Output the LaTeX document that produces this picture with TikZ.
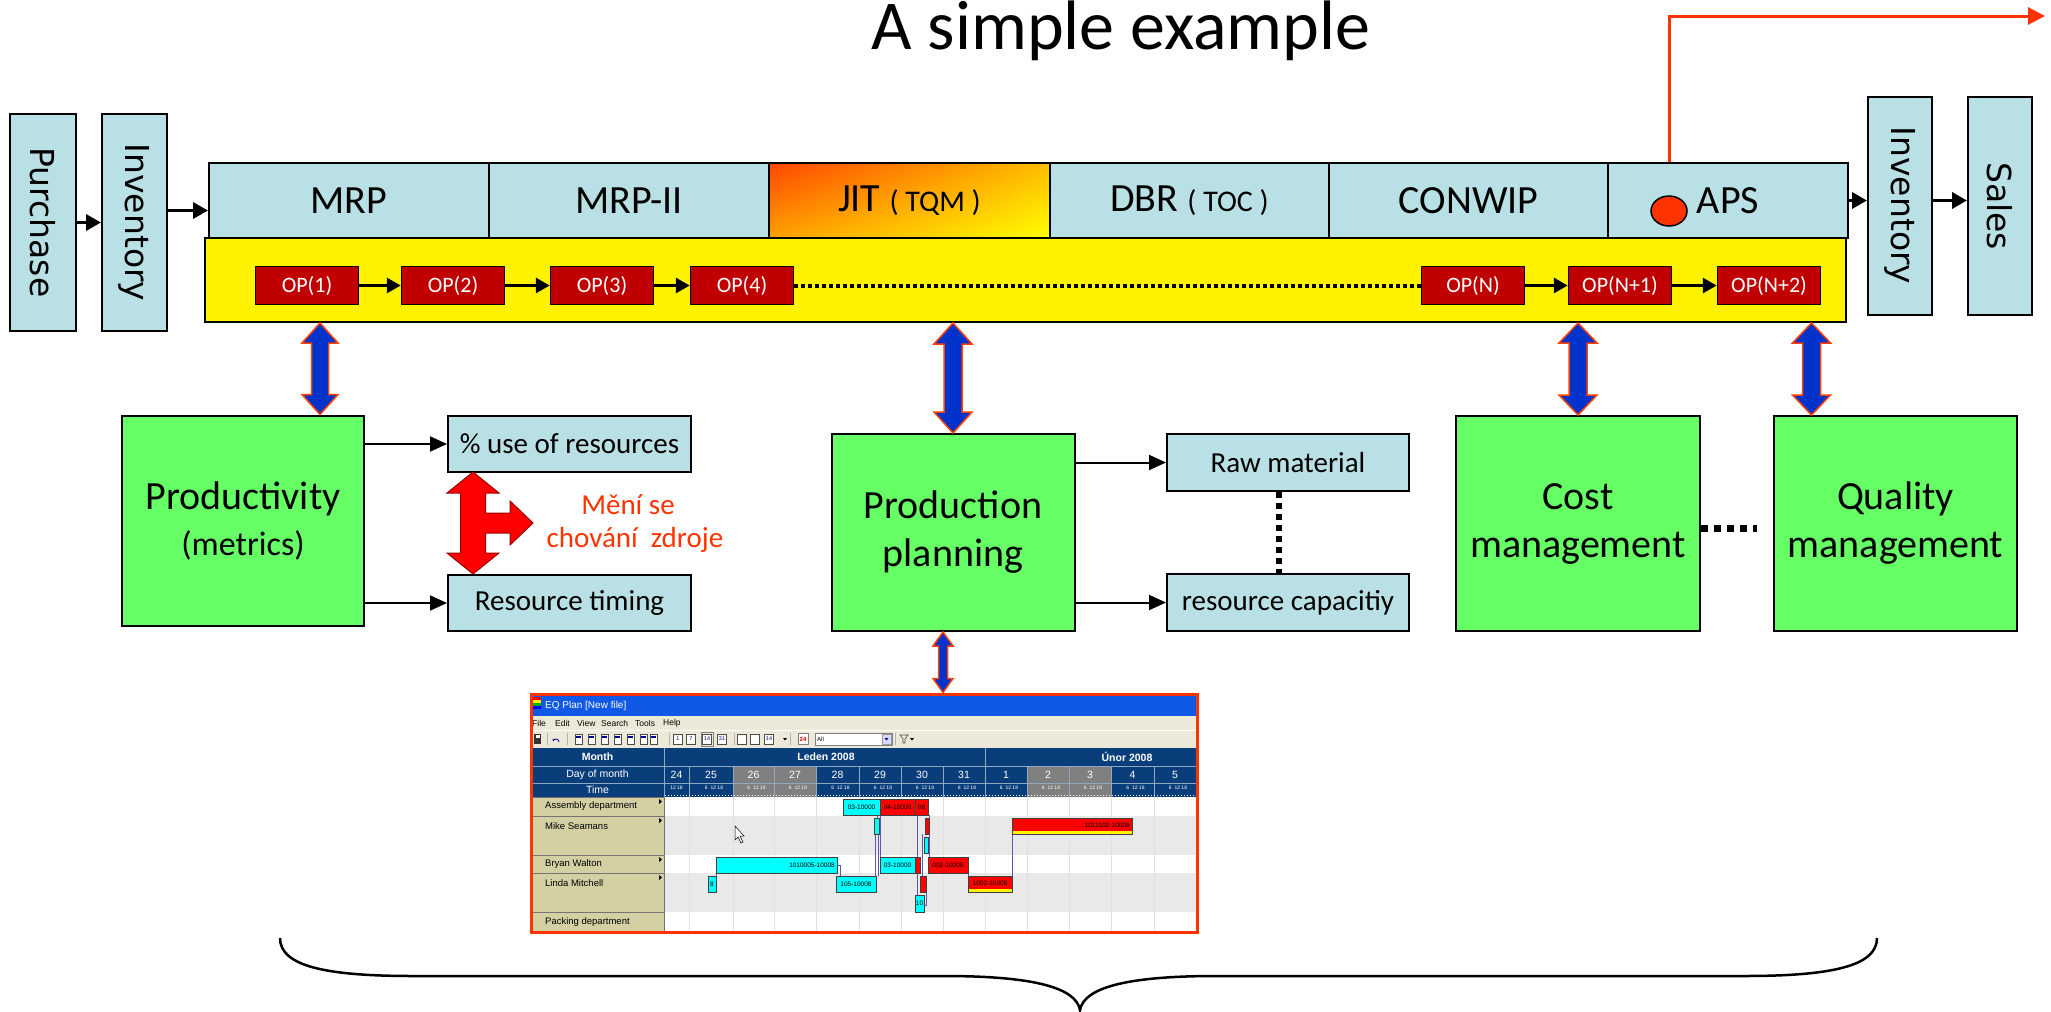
\documentclass[tikz,border=0pt]{standalone}
\usepackage{fontspec}
\setmainfont{Carlito}
\newfontfamily\vfont{DejaVu Sans}
\newfontfamily\sfont{Liberation Sans}
\usetikzlibrary{arrows.meta,calc,shadings,shapes.geometric}
\newcommand{\myfs}[2]{\fontsize{#1}{#2}\selectfont}
\definecolor{boxblue}{RGB}{185,224,228}
\definecolor{grn}{RGB}{102,255,102}
\definecolor{opred}{RGB}{192,0,0}
\definecolor{arrblue}{RGB}{0,51,204}
\definecolor{arrline}{RGB}{255,64,0}
\definecolor{txtred}{RGB}{255,51,0}
\definecolor{hdrblue}{RGB}{10,62,122}
\definecolor{hgray}{RGB}{128,128,128}
\definecolor{khaki}{RGB}{212,208,164}
\definecolor{menubg}{RGB}{236,233,216}
\definecolor{rowgray}{RGB}{233,233,233}
\definecolor{titleblue}{RGB}{16,88,230}
\definecolor{lnk}{RGB}{90,90,180}
\definecolor{barcyan}{RGB}{0,255,255}
\definecolor{barred}{RGB}{255,0,0}
\begin{document}
\begin{tikzpicture}[x=1pt,y=-1pt,
  lb/.style={draw=black,line width=2pt,fill=boxblue,inner sep=0pt},
  gb/.style={draw=black,line width=2pt,fill=grn,inner sep=0pt,align=center},
  op/.style={draw=black,line width=1.5pt,fill=opred,text=white,inner sep=0pt,minimum width=103pt,minimum height=38pt,font=\myfs{22}{22}},
  arr/.style={line width=3.5pt,-{Triangle[length=15pt,width=16pt]}},
  oparr/.style={line width=3pt,-{Triangle[length=14pt,width=15pt]}},
  thinarr/.style={line width=2pt,-{Triangle[length=17pt,width=15pt]}},
  bdarrow/.style n args={3}{fill=arrblue,draw=arrline,line width=1.5pt,
    to path={let \p1=(\tikztostart), \p2=(\tikztotarget) in
      (\x1,\y1) -- (\x1+#1,\y1-#3) -- (\x1+#2,\y1-#3) -- (\x1+#2,\y2+#3) -- (\x1+#1,\y2+#3)
      -- (\x1,\y2) -- (\x1-#1,\y2+#3) -- (\x1-#2,\y2+#3) -- (\x1-#2,\y1-#3) -- (\x1-#1,\y1-#3) -- cycle}},
  cy/.style={fill=barcyan,draw=black!75,line width=0.6pt},
  rd/.style={fill=barred,draw=black!75,line width=0.6pt},
  tiny/.style={font=\sfont\myfs{6.5}{6.5},inner sep=0pt},
  small/.style={font=\sfont\myfs{9.5}{9.5},inner sep=0pt},
  hline/.style={draw=white!55!hdrblue,line width=0.8pt}
]
\useasboundingbox (0,0) rectangle (2051,1012);

% title
\node[anchor=base,font=\myfs{70}{70},inner sep=0pt] (title) at (1121,49) {A simple example};

% red line from APS
\coordinate (dotc) at (1669,211);
\coordinate (rend) at (2045,16);
\draw[txtred,line width=3pt,-{Triangle[length=17pt,width=17pt]}] (dotc) -- (dotc |- rend) -- (rend);

% yellow band
\node[draw=black,line width=2pt,fill=yellow,minimum width=1641pt,minimum height=84pt,inner sep=0pt] (band) at (1025.5,280) {};

% top row
\node[lb,minimum width=280pt,minimum height=75pt,font=\myfs{40}{40}] (mrp) at (349,200.5) {MRP};
\node[lb,minimum width=280pt,minimum height=75pt,font=\myfs{40}{40}] (mrp2) at (629,200.5) {MRP-II};
\node[draw=black,line width=2pt,inner sep=0pt,minimum width=281pt,minimum height=75pt,font=\myfs{40}{40},
  upper left={rgb,255:red,255;green,70;blue,0},upper right={rgb,255:red,255;green,190;blue,0},
  lower left={rgb,255:red,255;green,160;blue,0},lower right={rgb,255:red,255;green,255;blue,0}] (jit) at (909.5,200.5) {JIT {\myfs{30}{30}( TQM )}};
\node[lb,minimum width=279pt,minimum height=75pt,font=\myfs{40}{40}] (dbr) at (1189.5,200.5) {DBR {\myfs{30}{30}( TOC )}};
\node[lb,minimum width=279pt,minimum height=75pt,font=\myfs{40}{40}] (conwip) at (1468.5,200.5) {CONWIP};
\node[lb,minimum width=240pt,minimum height=75pt,font=\myfs{40}{40}] (aps) at (1728,200.5) {APS};
\node[draw=black,line width=1.5pt,fill=txtred,ellipse,minimum width=36pt,minimum height=30pt,inner sep=0pt] (dot) at (dotc) {};

% side boxes (rotated: north = right side, south = left side)
\node[lb,rotate=-90,minimum width=217pt,minimum height=66pt,font=\vfont\myfs{33}{33}] (purch) at (43,222.5) {Purchase};
\node[lb,rotate=-90,minimum width=217pt,minimum height=65pt,font=\vfont\myfs{33}{33}] (inv1) at (134.5,222.5) {Inventory};
\node[lb,rotate=-90,minimum width=218pt,minimum height=64pt,font=\vfont\myfs{33}{33}] (inv2) at (1900,205.5) {Inventory};
\node[lb,rotate=-90,minimum width=218pt,minimum height=64pt,font=\vfont\myfs{33}{33}] (sales) at (2000,206) {Sales};

\draw[arr] (purch.north) -- (inv1.south);
\draw[arr] ([yshift=-10pt]inv1.north |- mrp.west) -- ([yshift=-10pt]mrp.west);
\draw[arr] (aps.east) -- (inv2.south |- aps.east);
\draw[arr] (inv2.north |- aps.east) -- (sales.south |- aps.east);

% OP boxes
\node[op] (op1) at (307,285.5) {OP(1)};
\node[op] (op2) at (453,285.5) {OP(2)};
\node[op] (op3) at (602,285.5) {OP(3)};
\node[op] (op4) at (742,285.5) {OP(4)};
\node[op] (opn) at (1473,285.5) {OP(N)};
\node[op] (opn1) at (1620,285.5) {OP(N+1)};
\node[op] (opn2) at (1769,285.5) {OP(N+2)};
\draw[oparr] (op1) -- (op2);
\draw[oparr] (op2) -- (op3);
\draw[oparr] (op3) -- (op4);
\draw[oparr] (opn) -- (opn1);
\draw[oparr] (opn1) -- (opn2);
\draw[line width=4pt,dash pattern=on 4pt off 3pt] (op4.east) -- (opn.west);

% lower boxes
\node[gb,minimum width=242pt,minimum height=210pt,font=\myfs{40}{46}] (prod) at (243,520.5) {Productivity\\{\myfs{34}{34}(metrics)}};
\node[lb,minimum width=243pt,minimum height=56pt,font=\myfs{29}{29}] (use) at (569.5,444) {\% use of resources};
\node[lb,minimum width=243pt,minimum height=56pt,font=\myfs{29}{29}] (timing) at (569.5,603) {Resource timing};
\node[gb,minimum width=243pt,minimum height=197pt,font=\myfs{40}{48}] (plan) at (953,532.5) {Production\\planning};
\node[lb,minimum width=242pt,minimum height=57pt,font=\myfs{29}{29}] (raw) at (1288,462.5) {Raw material};
\node[lb,minimum width=242pt,minimum height=57pt,font=\myfs{29}{29}] (cap) at (1288,602.5) {resource capacitiy};
\node[gb,minimum width=244pt,minimum height=215pt,font=\myfs{40}{48}] (cost) at (1578,523.5) {Cost\\management};
\node[gb,minimum width=243pt,minimum height=215pt,font=\myfs{40}{48}] (qual) at (1895.5,523.5) {Quality\\management};

\draw[thinarr] (prod.east |- use.west) -- (use.west);
\draw[thinarr] (prod.east |- timing.west) -- (timing.west);
\draw[thinarr] (plan.east |- raw.west) -- (raw.west);
\draw[thinarr] (plan.east |- cap.west) -- (cap.west);
\draw[line width=6pt,dash pattern=on 6pt off 5pt] ([xshift=-9pt]raw.south) -- ([xshift=-9pt]cap.north);
\draw[line width=7pt,dash pattern=on 7pt off 6pt] ([yshift=-5pt]cost.east) -- ([xshift=-16pt,yshift=-5pt]qual.west);

% red triple arrow and text
\draw[fill=red,draw=red!60!black,line width=1pt] (473,472) -- (499,493) -- (485.5,493) -- (485.5,513) -- (510,513) -- (510,501) -- (533,523) -- (510,545) -- (510,533) -- (485.5,533) -- (485.5,553) -- (499,553) -- (473,574) -- (447,553) -- (460.5,553) -- (460.5,493) -- (447,493) -- cycle;
\node[text=txtred,font=\myfs{29}{29},inner sep=0pt] (meni1) at (628,505) {Mění se};
\node[text=txtred,font=\myfs{29}{29},inner sep=0pt] (meni2) at (635,540) {chování~~zdroje};

% blue double arrows
\coordinate (a1b) at ([xshift=77pt]prod.north);
\coordinate (a1t) at (a1b |- band.south);
\draw[bdarrow={18pt}{8.5pt}{20pt}] (a1t) to (a1b);
\coordinate (a2b) at (plan.north);
\coordinate (a2t) at (a2b |- band.south);
\draw[bdarrow={19pt}{9pt}{21pt}] (a2t) to (a2b);
\coordinate (a3b) at (cost.north);
\coordinate (a3t) at (a3b |- band.south);
\draw[bdarrow={19pt}{9pt}{20pt}] (a3t) to (a3b);
\coordinate (a4b) at ([xshift=-84pt]qual.north);
\coordinate (a4t) at (a4b |- band.south);
\draw[bdarrow={19pt}{9pt}{20pt}] (a4t) to (a4b);

% ===== screenshot =====
\fill[white] (531,694) rectangle (1197,932);
\fill[titleblue] (531,694) rectangle (1197,716);
\fill[red] (533,697) rectangle (541,700);
\fill[yellow] (533,700) rectangle (541,703);
\fill[green!70!black] (533,703) rectangle (541,706);
\fill[blue] (533,706) rectangle (541,709);
\node[anchor=west,text=white,font=\sfont\myfs{10}{10},inner sep=0pt] (sttl) at (545,705.5) {EQ Plan [New file]};
\fill[menubg] (531,716) rectangle (1197,748);
\draw[white,line width=1pt] (531,730) -- (1197,730);
\foreach \x/\t in {532/File,555/Edit,577/View,601/Search,635/Tools,663/Help}
  \node[anchor=west,font=\sfont\myfs{8.5}{8.5},inner sep=0pt] at (\x,723) {\t};
% toolbar
\fill[black!80] (534,734) rectangle (541,744);
\fill[white] (535.5,735) rectangle (539.5,738);
\draw[blue!60!black,line width=0.8pt,-{Stealth[length=2pt,width=3pt]}] (559,742) arc[start angle=0,end angle=160,radius=3pt];
\foreach \x in {575,588,601,614,627,640,650}
  \draw[fill=white,draw=black!70,line width=0.5pt] (\x,734) rectangle ++(7,10);
\foreach \x in {576,589,602,615,628,641,651}
  \fill[blue!60!black] (\x,736) rectangle ++(5,2);
\foreach \x/\t in {678/1,691/7,707/14,722/31,742/{},755/{},769/14}
  \node[draw=black!70,fill=white,font=\sfont\myfs{5.5}{5.5},text=blue!50!black,inner sep=0pt,minimum width=9pt,minimum height=10pt,line width=0.5pt] at (\x,739) {\t};
\draw[black!50,line width=0.6pt] (701,732) rectangle (713,746);
\fill[black] (783,738) -- (787,738) -- (785,740.5) -- cycle;
\node[draw=black!50,fill=white,font=\sfont\bfseries\myfs{6}{6},text=red!80!black,inner sep=0pt,minimum width=10pt,minimum height=11pt,line width=0.5pt] at (803,739) {24};
\draw[fill=white,draw=black!50,line width=0.5pt] (815,733) rectangle (892,745);
\node[anchor=west,font=\sfont\myfs{6}{6},inner sep=0pt] at (817,739) {All};
\draw[fill=blue!15,draw=black!40,line width=0.5pt] (882,734) rectangle (891,744);
\fill[blue!60!black] (884.5,738) -- (888.5,738) -- (886.5,740.5) -- cycle;
\draw[black!70,line width=0.6pt] (900,735) -- (908,735) -- (905,739) -- (905,743) -- (903,743) -- (903,739) -- cycle;
\fill[black] (910,738) -- (914,738) -- (912,740.5) -- cycle;
\foreach \x in {547,567,669,734,790,895}
  \draw[black!30,line width=0.6pt] (\x,733) -- (\x,745);

% header
\fill[hdrblue] (531,748) rectangle (1197,797);
\fill[hgray] (733,766) rectangle (816,797);
\fill[hgray] (1027,766) rectangle (1111,797);
\draw[hline] (531,766) -- (1197,766);
\draw[hline] (531,783) -- (1197,783);
\draw[hline] (664,748) -- (664,797);
\draw[hline] (985,748) -- (985,797);
\foreach \x in {689,733,774,816,859,901,943,1027,1069,1111,1154}
  \draw[hline] (\x,766) -- (\x,797);
\node[text=white,font=\sfont\bfseries\myfs{10.5}{10.5},inner sep=0pt] at (597.5,757) {Month};
\node[text=white,font=\sfont\bfseries\myfs{10.5}{10.5},inner sep=0pt] at (826,757) {Leden 2008};
\node[text=white,font=\sfont\bfseries\myfs{10.5}{10.5},inner sep=0pt] at (1127,757) {Únor 2008};
\node[text=white,font=\sfont\myfs{10.5}{10.5},inner sep=0pt] at (597.5,774.5) {Day of month};
\node[text=white,font=\sfont\myfs{10.5}{10.5},inner sep=0pt] at (597.5,790) {Time};
\foreach \a/\b/\d in {664/689/24,689/733/25,733/774/26,774/816/27,816/859/28,859/901/29,901/943/30,943/985/31,985/1027/1,1027/1069/2,1069/1111/3,1111/1154/4,1154/1196/5}
  \node[text=white,font=\sfont\myfs{10.5}{10.5},inner sep=0pt] at ({(\a+\b)/2},774.5) {\d};
\node[text=white,font=\sfont\myfs{5}{5},inner sep=0pt] at (676.5,788) {12 18};
\foreach \a/\b in {689/733,733/774,774/816,816/859,859/901,901/943,943/985,985/1027,1027/1069,1069/1111,1111/1154,1154/1196}
  \node[text=white,font=\sfont\myfs{5}{5},inner sep=0pt] at ({(\a+\b)/2+3},788) {6\ \ 12 18};
\draw[white,line width=0.5pt,dash pattern=on 0.5pt off 2.5pt] (665,795.5) -- (1196,795.5);

% body rows
\fill[rowgray] (664,816) rectangle (1196,855);
\fill[rowgray] (664,873) rectangle (1196,912);
\foreach \x in {689,733,774,816,859,901,943,985,1027,1069,1111,1154}
  \draw[black!12,line width=0.6pt] (\x,797) -- (\x,932);
\foreach \ya/\yb in {797/816,816/855,855/873,873/912,912/932}
  \draw[fill=khaki,draw=black!55,line width=0.8pt] (531,\ya) rectangle (664,\yb);
\foreach \y in {799,818,857,875}
  \fill[black] (659,\y) -- (662,\y+2.5) -- (659,\y+5) -- cycle;
\node[anchor=west,small] at (545,806.5) {Assembly department};
\node[anchor=west,small] at (545,826) {Mike Seamans};
\node[anchor=west,small] at (545,864) {Bryan Walton};
\node[anchor=west,small] at (545,883) {Linda Mitchell};
\node[anchor=west,small] at (545,922) {Packing department};

% link lines
\draw[lnk,line width=0.7pt] (877,815) -- (877,834) (878,834) -- (878,876) (875,834) -- (875,876);
\draw[lnk,line width=0.7pt] (917,815) -- (917,905) (922,834) -- (922,876) (929,815) -- (929,857);
\draw[lnk,line width=0.7pt] (1012,826) -- (1012,884) (837,865) -- (840,865) -- (840,876);
\draw[lnk,line width=0.7pt] (716,870) -- (716,884) (968,865) -- (968,884) (926,884) -- (926,905) -- (924,905);
\draw[lnk,line width=0.7pt] (880,807) -- (880,865);
% bars
\draw[cy] (843,799) rectangle (880,815);
\draw[rd] (880,799) rectangle (915,815);
\draw[rd] (915,799) rectangle (928,815);
\node[tiny] at (861.5,807) {03-10000};
\node[tiny] at (897.5,807) {04-10000};
\node[tiny] at (921.5,807) {08};
\draw[cy] (874,818) rectangle (879,834);
\draw[rd] (925,818) rectangle (929,834);
\draw[cy] (924,837) rectangle (928,853);
\draw[rd] (1012,818) rectangle (1132,834);
\fill[yellow] (1012.5,831) rectangle (1131.5,833.5);
\node[tiny,anchor=east] at (1130,825.5) {1011002-10008};
\draw[cy] (716,857) rectangle (837,873);
\node[tiny,anchor=east] at (835,865) {1010005-10008};
\draw[cy] (880,857) rectangle (915,873);
\node[tiny] at (897.5,865) {03-10000};
\draw[rd] (915,857) rectangle (920,873);
\draw[rd] (928,857) rectangle (968,873);
\node[tiny] at (948,865) {002-10008};
\draw[cy] (708,876) rectangle (716,892);
\node[tiny] at (712,884) {8};
\draw[cy] (836,876) rectangle (876,892);
\node[tiny] at (856,884) {105-10008};
\draw[rd] (920,876) rectangle (926,892);
\draw[rd] (968,876) rectangle (1012,892);
\fill[yellow] (968.5,889) rectangle (1011.5,891.5);
\node[tiny] at (990,883.5) {1002-10008};
\draw[cy] (915,895) rectangle (924,912);
\node[tiny] at (919.5,903.5) {10};
% cursor
\draw[fill=white,draw=black,line width=0.5pt] (735,826) -- (735,840) -- (738,837) -- (741,843) -- (743,842) -- (740,836) -- (744,836) -- cycle;

% frame
\node[draw=txtred,line width=3pt,minimum width=666pt,minimum height=238pt,inner sep=0pt] (shot) at (864,813) {};

% small arrow plan <-> screenshot
\coordinate (a5t) at ([xshift=-10pt]plan.south);
\coordinate (a5b) at (a5t |- shot.north);
\draw[bdarrow={10pt}{4.5pt}{14pt}] (a5t) to (a5b);

% brace
\coordinate (bl) at (280,938);
\coordinate (bm) at (1080,1010);
\coordinate (br) at (1877,938);
\draw[line width=2.5pt] (bl) .. controls (280,966) and (325,976) .. (413,976) -- (944,976)
  .. controls (1035,976) and (1076,988) .. (bm)
  .. controls (1084,988) and (1125,976) .. (1216,976) -- (1744,976)
  .. controls (1832,976) and (1877,966) .. (br);
\end{tikzpicture}
\end{document}
